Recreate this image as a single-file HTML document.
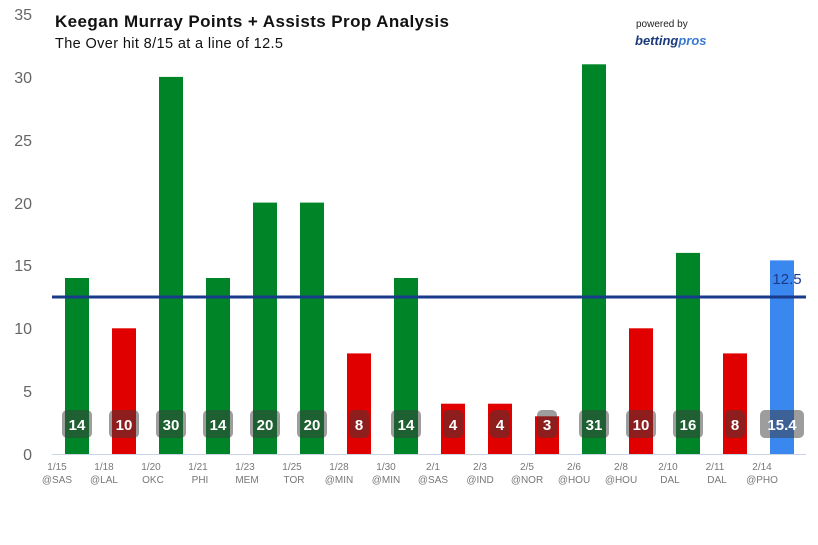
<!DOCTYPE html><html><head><style>body{margin:0;background:#fff}svg{display:block}</style></head><body>
<svg width="818" height="545" font-family="Liberation Sans, DejaVu Sans, sans-serif">
<g fill="#666" font-size="16" text-anchor="end">
<text x="32" y="460">0</text><text x="32" y="397">5</text><text x="32" y="334">10</text><text x="32" y="271">15</text><text x="32" y="209">20</text><text x="32" y="146">25</text><text x="32" y="83">30</text><text x="32" y="20">35</text>
</g>
<line x1="52" y1="454.5" x2="806" y2="454.5" stroke="#c8d4e4" stroke-width="1"/>
<g>
<rect x="65" y="278" width="24" height="176" fill="#008428"/>
<rect x="112" y="328.3" width="24" height="125.7" fill="#e00000"/>
<rect x="159" y="76.9" width="24" height="377.1" fill="#008428"/>
<rect x="206" y="278" width="24" height="176" fill="#008428"/>
<rect x="253" y="202.6" width="24" height="251.4" fill="#008428"/>
<rect x="300" y="202.6" width="24" height="251.4" fill="#008428"/>
<rect x="347" y="353.4" width="24" height="100.6" fill="#e00000"/>
<rect x="394" y="278" width="24" height="176" fill="#008428"/>
<rect x="441" y="403.7" width="24" height="50.3" fill="#e00000"/>
<rect x="488" y="403.7" width="24" height="50.3" fill="#e00000"/>
<rect x="535" y="416.3" width="24" height="37.7" fill="#e00000"/>
<rect x="582" y="64.3" width="24" height="389.7" fill="#008428"/>
<rect x="629" y="328.3" width="24" height="125.7" fill="#e00000"/>
<rect x="676" y="252.9" width="24" height="201.1" fill="#008428"/>
<rect x="723" y="353.4" width="24" height="100.6" fill="#e00000"/>
<rect x="770" y="260.4" width="24" height="193.6" fill="#3b87f0"/>
</g>
<g fill="rgba(60,60,60,0.5)">
<rect x="62" y="410" width="30" height="28" rx="5"/>
<rect x="109" y="410" width="30" height="28" rx="5"/>
<rect x="156" y="410" width="30" height="28" rx="5"/>
<rect x="203" y="410" width="30" height="28" rx="5"/>
<rect x="250" y="410" width="30" height="28" rx="5"/>
<rect x="297" y="410" width="30" height="28" rx="5"/>
<rect x="349" y="410" width="20" height="28" rx="5"/>
<rect x="391" y="410" width="30" height="28" rx="5"/>
<rect x="443" y="410" width="20" height="28" rx="5"/>
<rect x="490" y="410" width="20" height="28" rx="5"/>
<rect x="537" y="410" width="20" height="28" rx="5"/>
<rect x="579" y="410" width="30" height="28" rx="5"/>
<rect x="626" y="410" width="30" height="28" rx="5"/>
<rect x="673" y="410" width="30" height="28" rx="5"/>
<rect x="725" y="410" width="20" height="28" rx="5"/>
<rect x="760" y="410" width="44" height="28" rx="5"/>
</g>
<g font-size="15" font-weight="bold" fill="#fff" text-anchor="middle">
<text x="77" y="430">14</text><text x="124" y="430">10</text><text x="171" y="430">30</text><text x="218" y="430">14</text><text x="265" y="430">20</text><text x="312" y="430">20</text><text x="359" y="430">8</text><text x="406" y="430">14</text><text x="453" y="430">4</text><text x="500" y="430">4</text><text x="547" y="430">3</text><text x="594" y="430">31</text><text x="641" y="430">10</text><text x="688" y="430">16</text><text x="735" y="430">8</text><text x="782" y="430">15.4</text>
</g>
<g font-size="10" fill="#777" text-anchor="middle">
<text x="57" y="470">1/15</text><text x="104" y="470">1/18</text><text x="151" y="470">1/20</text><text x="198" y="470">1/21</text><text x="245" y="470">1/23</text><text x="292" y="470">1/25</text><text x="339" y="470">1/28</text><text x="386" y="470">1/30</text><text x="433" y="470">2/1</text><text x="480" y="470">2/3</text><text x="527" y="470">2/5</text><text x="574" y="470">2/6</text><text x="621" y="470">2/8</text><text x="668" y="470">2/10</text><text x="715" y="470">2/11</text><text x="762" y="470">2/14</text>
<text x="57" y="483">@SAS</text><text x="104" y="483">@LAL</text><text x="153" y="483">OKC</text><text x="200" y="483">PHI</text><text x="247" y="483">MEM</text><text x="294" y="483">TOR</text><text x="339" y="483">@MIN</text><text x="386" y="483">@MIN</text><text x="433" y="483">@SAS</text><text x="480" y="483">@IND</text><text x="527" y="483">@NOR</text><text x="574" y="483">@HOU</text><text x="621" y="483">@HOU</text><text x="670" y="483">DAL</text><text x="717" y="483">DAL</text><text x="762" y="483">@PHO</text>
</g>
<line x1="52" y1="297" x2="806" y2="297" stroke="#1a3a8a" stroke-width="3"/>
<text x="787" y="284" font-size="15" fill="#1a3a8a" text-anchor="middle">12.5</text>
<text x="55" y="27" font-size="17" font-weight="bold" fill="#111" textLength="394">Keegan Murray Points + Assists Prop Analysis</text>
<text x="55" y="48" font-size="14.5" fill="#111" textLength="228">The Over hit 8/15 at a line of 12.5</text>
<text x="636" y="27" font-size="10" fill="#222">powered by</text>
<text x="635" y="45" font-size="13" font-weight="bold" font-style="italic" fill="#1a3a7a">betting<tspan fill="#3a7ad0">pros</tspan></text>
</svg></body></html>
